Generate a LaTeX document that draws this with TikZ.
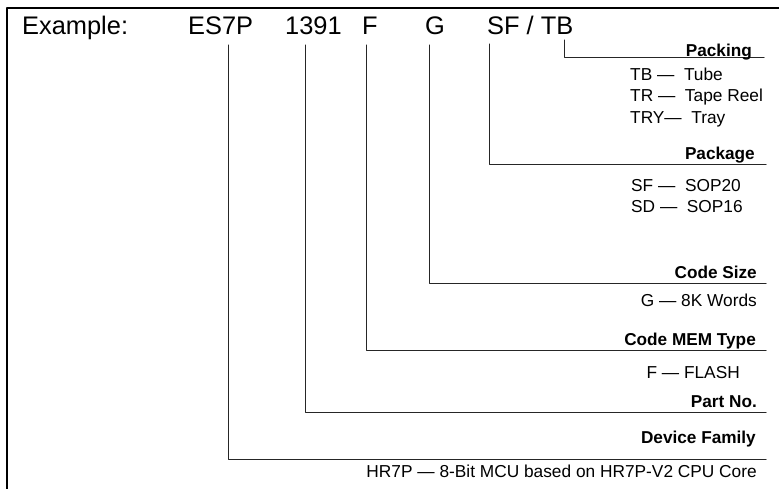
\documentclass[tikz,border=0pt]{standalone}
\usepackage{fontspec}
\setmainfont{Liberation Sans}

\begin{document}
\begin{tikzpicture}[
				x=1pt, y=-1pt,
				line cap=round,
				line join=round,
				code/.style={anchor=base west, inner sep=0pt, font=\fontsize{25.4}{28}\selectfont},
				head/.style={anchor=base east, inner sep=0pt, font=\fontsize{17.2}{20}\selectfont\bfseries},
				item/.style={anchor=base west, inner sep=0pt, font=\fontsize{17.3}{20}\selectfont},
				itemr/.style={item, anchor=base east},
				lead/.style={line width=1pt, black!85},
				frame/.style={line width=2pt, line cap=butt}
				]
				\useasboundingbox (0,0) rectangle (779,489);
				\draw[frame] (7,489) -- (7,8) -- (779,8);
				
				% Code line
				\node[code] (C0) at (22,35) {Example:};
				\node[code] (C1) at (188,35) {ES7P};
				\node[code] (C2) at (285,35) {1391};
				\node[code] (C3) at (362,35) {F};
				\node[code] (C4) at (425,35) {G};
				\node[code] (C5) at (487,35) {SF / TB};
				
				% Packing
				\coordinate (T6) at (564,40);
				\coordinate (E6) at (764,58);
				\draw[lead] (T6) |- (E6);
				\node[head] (H6) at (752,57) {Packing};
				\node[item] (I6a) at (630,81) {TB — \ Tube};
				\node[item] (I6b) at (630,102) {TR — \ Tape Reel};
				\node[item] (I6c) at (630,124) {TRY— \ Tray};
				
				% Package
				\coordinate (T5) at (489,44);
				\coordinate (E5) at (766,165);
				\draw[lead] (T5) |- (E5);
				\node[head] (H5) at (755,160) {Package};
				\node[item] (I5a) at (631,192) {SF — \ SOP20};
				\node[item] (I5b) at (631,213) {SD — \ SOP16};
				
				% Code Size
				\coordinate (T4) at (429,45);
				\coordinate (E4) at (766,283);
				\draw[lead] (T4) |- (E4);
				\node[head] (H4) at (757,278) {Code Size};
				\node[itemr] (I4) at (757,306) {G — 8K Words};
				
				% Code MEM Type
				\coordinate (T3) at (366,45);
				\coordinate (E3) at (766,350);
				\draw[lead] (T3) |- (E3);
				\node[head] (H3) at (756,345) {Code MEM Type};
				\node[itemr] (I3) at (740,378) {F — FLASH};
				
				% Part No.
				\coordinate (T2) at (305,45);
				\coordinate (E2) at (766,412);
				\draw[lead] (T2) |- (E2);
				\node[head] (H2) at (757,407) {Part No.};
				
				% Device Family
				\coordinate (T1) at (228,45);
				\coordinate (E1) at (766,459);
				\draw[lead] (T1) |- (E1);
				\node[head] (H1) at (756,443) {Device Family};
				\node[itemr] (I1) at (757,477) {HR7P — 8-Bit MCU based on HR7P-V2 CPU Core};
			\end{tikzpicture}
\end{document}
